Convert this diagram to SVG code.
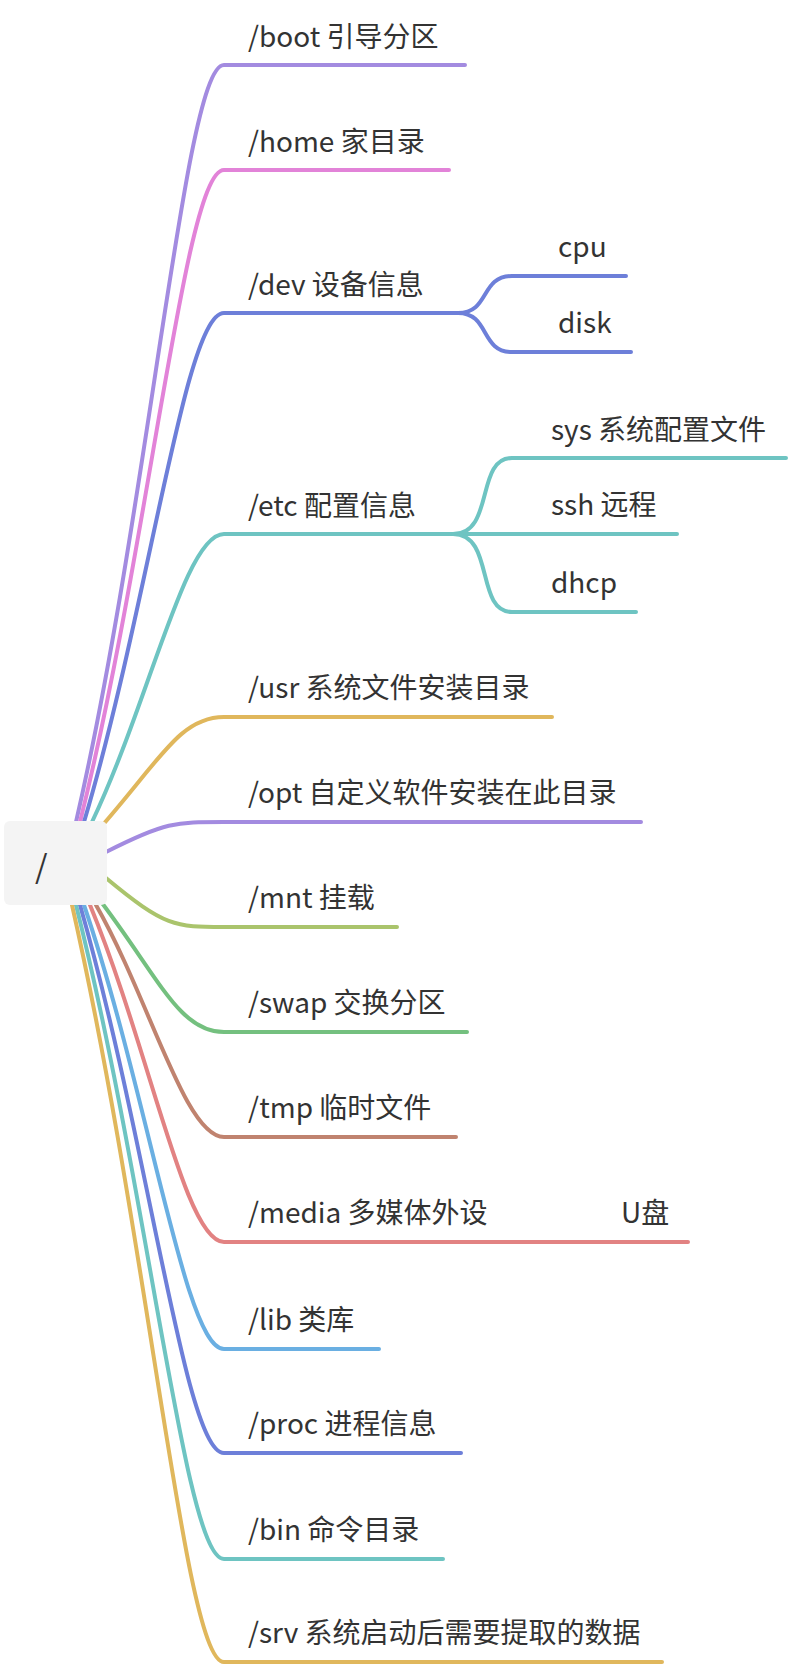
<svg xmlns="http://www.w3.org/2000/svg" width="788" height="1670" viewBox="0 0 788 1670">
<style>
text{font-family:"Noto Sans CJK SC","Liberation Sans",sans-serif;font-size:28px;fill:#333}
path{fill:none;stroke-width:4;stroke-linecap:round}
.pu{stroke:#a38be0}.pk{stroke:#e283d8}.bl{stroke:#6d7fd9}.tl{stroke:#6ec4c2}.yl{stroke:#e0b75c}.ol{stroke:#aac46c}.gr{stroke:#74c07f}.br{stroke:#c0836f}.rd{stroke:#e28282}.lb{stroke:#6aafe2}
</style>
<rect width="788" height="1670" fill="#fff"/>
<g id="connectors">
<path class="pu" d="M76 822 C150 500 185 65 224 65 L465 65"/>
<path class="pk" d="M80 822 C150 540 185 170 224 170 L449 170"/>
<path class="bl" d="M84 822 C150 600 185 313 224 313 L458 313"/>
<path class="tl" d="M92 822 C150 700 185 534 224 534 L453 534"/>
<path class="yl" d="M100 828 C160 760 180 717 224 717 L552 717"/>
<path class="pu" d="M106 852 C165 822 175 822 224 822 L641 822"/>
<path class="ol" d="M106 878 C165 927 175 927 224 927 L397 927"/>
<path class="gr" d="M102 903 C160 980 180 1032 224 1032 L467 1032"/>
<path class="br" d="M96 905 C150 1000 185 1137 224 1137 L456 1137"/>
<path class="rd" d="M90 905 C150 1050 185 1242 224 1242 L688 1242"/>
<path class="lb" d="M84 905 C150 1100 185 1349 224 1349 L379 1349"/>
<path class="bl" d="M80 905 C150 1150 185 1453 224 1453 L461 1453"/>
<path class="tl" d="M76 905 C150 1200 185 1559 224 1559 L443 1559"/>
<path class="yl" d="M72 905 C150 1250 185 1662 224 1662 L662 1662"/>
<path class="bl" d="M458 313 C490 313 480 276 512 276 L626 276"/>
<path class="bl" d="M458 313 C490 313 480 352 512 352 L631 352"/>
<path class="tl" d="M453 534 C495 534 475 458 512 458 L786 458"/>
<path class="tl" d="M453 534 L677 534"/>
<path class="tl" d="M453 534 C495 534 475 612 512 612 L636 612"/>
</g>
<g id="root"><rect x="4" y="821" width="103" height="84" rx="6" fill="#f4f4f4"/><text x="35" y="878" style="font-size:32px">/</text></g>
<g id="boot"><text x="248" y="47">/boot 引导分区</text></g>
<g id="home"><text x="248" y="152">/home 家目录</text></g>
<g id="dev"><text x="248" y="295">/dev 设备信息</text></g>
<g id="cpu"><text x="558" y="257">cpu</text></g>
<g id="disk"><text x="558" y="333">disk</text></g>
<g id="etc"><text x="248" y="516">/etc 配置信息</text></g>
<g id="sys"><text x="551" y="440">sys 系统配置文件</text></g>
<g id="ssh"><text x="551" y="515">ssh 远程</text></g>
<g id="dhcp"><text x="551" y="593">dhcp</text></g>
<g id="usr"><text x="248" y="698">/usr 系统文件安装目录</text></g>
<g id="opt"><text x="248" y="803">/opt 自定义软件安装在此目录</text></g>
<g id="mnt"><text x="248" y="908">/mnt 挂载</text></g>
<g id="swap"><text x="248" y="1013">/swap 交换分区</text></g>
<g id="tmp"><text x="248" y="1118">/tmp 临时文件</text></g>
<g id="media"><text x="248" y="1223">/media 多媒体外设</text></g>
<g id="upan"><text x="621" y="1223">U盘</text></g>
<g id="lib"><text x="248" y="1330">/lib 类库</text></g>
<g id="proc"><text x="248" y="1434">/proc 进程信息</text></g>
<g id="bin"><text x="248" y="1540">/bin 命令目录</text></g>
<g id="srv"><text x="248" y="1643">/srv 系统启动后需要提取的数据</text></g>
</svg>
